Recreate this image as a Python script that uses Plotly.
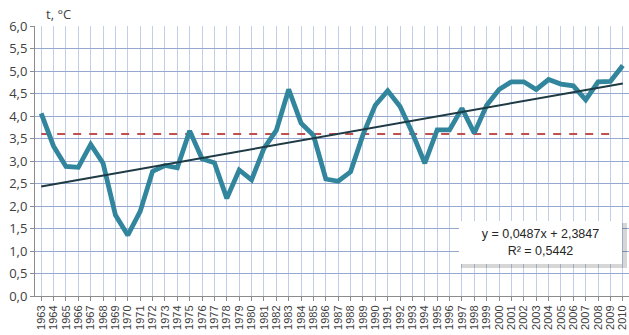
import plotly.graph_objects as go

years = list(range(1963, 2011))
temps = [4.06, 3.33, 2.88, 2.86, 3.37, 2.95, 1.80, 1.35, 1.88, 2.77,
         2.90, 2.85, 3.67, 3.05, 2.96, 2.17, 2.80, 2.58, 3.28, 3.68,
         4.59, 3.84, 3.57, 2.60, 2.55, 2.76, 3.58, 4.24, 4.56, 4.21,
         3.62, 2.95, 3.69, 3.69, 4.17, 3.62, 4.24, 4.59, 4.76, 4.76,
         4.59, 4.81, 4.71, 4.67, 4.36, 4.76, 4.77, 5.12]
mean_years = list(range(1963, 2010))
mean_value = 3.6
trend_slope = 0.0487
trend_intercept = 2.3847
trend_text = "y = 0,0487x + 2,3847<br>R² = 0,5442"
y_title = "t, °C"

trend_x = [years[0], years[-1]]
trend_y = [trend_slope * (years.index(x) + 1) + trend_intercept for x in trend_x]

fig = go.Figure()
fig.add_trace(go.Scatter(x=mean_years, y=[mean_value] * len(mean_years), mode="lines",
                         line=dict(color="#C0504D", width=2, dash="8px,8px"),
                         hoverinfo="skip", showlegend=False))
fig.add_trace(go.Scatter(x=years, y=temps, mode="lines",
                         line=dict(color="#31859C", width=4.8),
                         showlegend=False))
fig.add_trace(go.Scatter(x=trend_x, y=trend_y, mode="lines",
                         line=dict(color="#1E3A44", width=2),
                         showlegend=False))

# shadow of the trend label box (paper coordinates)
fig.add_shape(type="rect", xref="paper", yref="paper",
              x0=(461 - 35) / 594, x1=(627 - 35) / 594,
              y0=(296 - 268) / 270, y1=(296 - 223) / 270,
              fillcolor="rgba(0,0,0,0.16)", line=dict(width=0), layer="above")

fig.update_layout(
    width=629, height=335,
    margin=dict(l=35, r=0, t=26, b=39),
    paper_bgcolor="white", plot_bgcolor="white",
    separators=",.",
    font=dict(family="Open Sans, Liberation Sans, sans-serif", color="#404040"),
    xaxis=dict(range=[1962.5, 2010.5], tickmode="array", tickvals=years,
               ticktext=[str(y) for y in years], tickangle=-90, automargin=False,
               tickfont=dict(size=11, family="Liberation Sans, sans-serif", color="#404040"),
               showgrid=True, gridcolor="#C2CFE6", gridwidth=1,
               showline=True, linecolor="#8C8C8C", linewidth=1,
               ticks="outside", ticklen=4, tickcolor="#8C8C8C", zeroline=False),
    yaxis=dict(range=[0, 6], dtick=0.5, tickformat=".1f", automargin=False,
               tickfont=dict(size=13, color="#404040"),
               showgrid=True, gridcolor="#95A8CE", gridwidth=1,
               showline=True, linecolor="#8C8C8C", linewidth=1,
               ticks="outside", ticklen=4, tickcolor="#8C8C8C", zeroline=False),
    annotations=[
        dict(text=y_title, x=0.015, y=1.0, xref="paper", yref="paper",
             xanchor="left", yanchor="bottom", yshift=1, showarrow=False,
             font=dict(size=13, color="#404040")),
        dict(text=trend_text, x=(540 - 35) / 594, y=(296 - 242) / 270,
             xref="paper", yref="paper", xanchor="center", yanchor="middle",
             width=163, height=43,
             showarrow=False, align="center",
             font=dict(size=12.5, color="#262626", family="Liberation Sans, sans-serif"),
             bgcolor="white", borderpad=0, borderwidth=0),
    ],
)
fig.write_html("out.html", config={"displayModeBar": False},
               post_script="document.body.style.margin='0';document.body.style.overflow='hidden';")
